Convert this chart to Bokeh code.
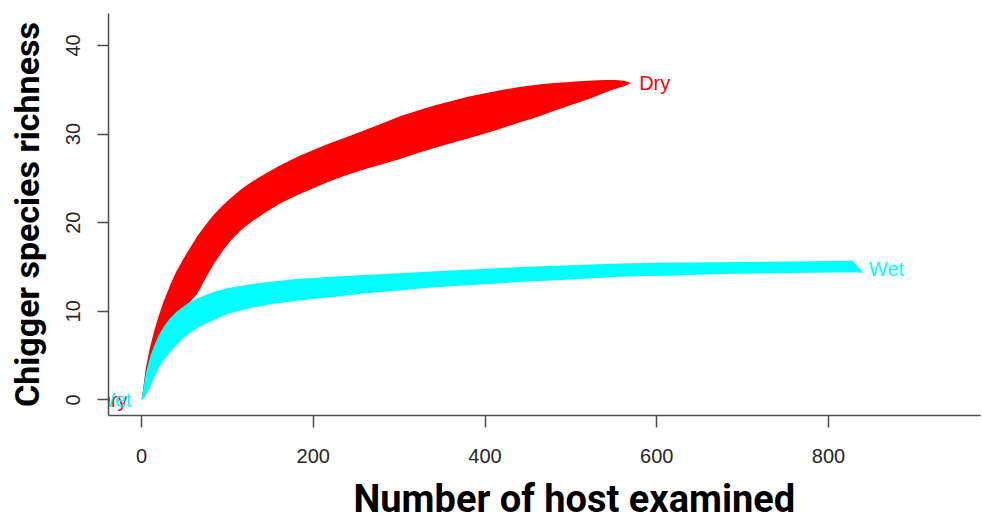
from bokeh.plotting import figure
from bokeh.models import Range1d, FixedTicker, Title, ColumnDataSource
from bokeh.core.properties import value
from bokeh.embed import file_html
from bokeh.resources import INLINE

# ---- data ----
dry_x  = [0, 5, 10, 15, 20, 26, 33, 40, 48, 56, 65, 75, 84, 95, 104, 115, 128, 142, 160, 181,
          200, 220, 240, 259, 280, 301, 320, 340, 360, 380, 400, 418, 440, 460, 480, 495, 510,
          525, 540, 552, 562, 569]
dry_hi = [0, 3.6, 6.0, 7.9, 9.5, 11.2, 12.9, 14.4, 15.8, 17.1, 18.5, 19.8, 20.9, 22.0, 22.8,
          23.7, 24.6, 25.4, 26.4, 27.4, 28.2, 29.0, 29.7, 30.4, 31.2, 32.0, 32.6, 33.2, 33.7,
          34.2, 34.6, 34.95, 35.3, 35.55, 35.75, 35.85, 35.95, 36.05, 36.1, 36.1, 36.0, 35.8]
dry_lo = [0, 1.2, 2.6, 3.9, 5.0, 6.3, 7.6, 8.8, 10.0, 11.0, 12.0, 13.8, 15.3, 16.9, 18.0, 19.1,
          20.1, 21.0, 22.1, 23.1, 23.9, 24.7, 25.4, 26.0, 26.6, 27.2, 27.8, 28.4, 28.95, 29.5,
          30.05, 30.6, 31.3, 31.9, 32.6, 33.1, 33.6, 34.1, 34.7, 35.1, 35.4, 35.7]

wet_x  = [0, 3, 6, 10, 15, 20, 26, 33, 40, 48, 57, 68, 84, 100, 123, 150, 181, 220, 259, 300,
          337, 390, 441, 500, 557, 620, 674, 730, 780, 828, 840]
wet_hi = [0, 1.9, 3.4, 4.9, 6.2, 7.3, 8.3, 9.2, 9.9, 10.5, 11.1, 11.6, 12.2, 12.6, 13.0, 13.35,
          13.65, 13.9, 14.1, 14.3, 14.5, 14.75, 15.0, 15.2, 15.4, 15.5, 15.55, 15.6, 15.65, 15.7,
          14.45]
wet_lo = [0, 0.2, 0.7, 1.4, 2.6, 3.6, 4.5, 5.4, 6.1, 6.9, 7.6, 8.3, 9.0, 9.7, 10.3, 10.8, 11.2,
          11.6, 12.0, 12.35, 12.7, 13.0, 13.3, 13.6, 13.9, 14.05, 14.2, 14.3, 14.35, 14.4, 14.35]

groups = ["Dry", "Wet"]
colors = ["#FF0000", "#00FFFF"]
x_ticks = [0, 200, 400, 600, 800]
y_ticks = [0, 10, 20, 30, 40]

x_title = "Number of host examined"
y_title = "Chigger species richness"

LABEL_FONT = "Liberation Sans"
TITLE_FONT = "Roboto"

p = figure(width=982, height=522, output_backend="svg", toolbar_location=None,
           x_range=Range1d(-38.5, 977), y_range=Range1d(-1.75, 43.6),
           min_border_left=108, min_border_right=2, min_border_top=13,
           min_border_bottom=107, background_fill_color="white",
           border_fill_color="white")
p.outline_line_color = None
p.grid.visible = False

# bands
p.varea(x=dry_x, y1=dry_lo, y2=dry_hi, fill_color=colors[0])
p.varea(x=wet_x, y1=wet_lo, y2=wet_hi, fill_color=colors[1])

# start labels (partly clipped by the frame, as in the reference); Dry first, Wet on top
start_src = ColumnDataSource(dict(x=[dry_x[0], wet_x[0]], y=[dry_lo[0], wet_lo[0]],
                                  t=[groups[0], groups[1]], c=[colors[0], colors[1]],
                                  xo=[-14, -10]))
p.text(x="x", y="y", text="t", source=start_src, text_color="c", x_offset="xo",
       text_align="right", text_baseline="middle", text_font=value(LABEL_FONT),
       text_font_size="20px")

# end labels
end_src = ColumnDataSource(dict(
    x=[dry_x[-1], wet_x[-1]],
    y=[(dry_hi[-1] + dry_lo[-1]) / 2, (wet_hi[-1] + wet_lo[-1]) / 2],
    t=groups, c=colors, xo=[9, 6], yo=[0, -3]))
p.text(x="x", y="y", text="t", source=end_src, text_color="c", x_offset="xo",
       y_offset="yo", text_align="left", text_baseline="middle",
       text_font=value(LABEL_FONT), text_font_size="20px")

# axes
for ax in (p.xaxis[0], p.yaxis[0]):
    ax.axis_line_color = "#4d4d4d"
    ax.axis_line_width = 1.5
    ax.major_tick_line_color = "#4d4d4d"
    ax.major_tick_line_width = 1.5
    ax.major_tick_in = 0
    ax.minor_tick_line_color = None
    ax.major_label_text_font = LABEL_FONT
    ax.major_label_text_font_size = "20px"
    ax.major_label_text_color = "#262626"

p.xaxis.ticker = FixedTicker(ticks=x_ticks)
p.yaxis.ticker = FixedTicker(ticks=y_ticks)
p.xaxis.major_tick_out = 12
p.yaxis.major_tick_out = 11
p.xaxis.major_label_standoff = 21
p.yaxis.major_label_standoff = 17
p.yaxis.major_label_orientation = "vertical"

p.yaxis.axis_label = y_title
p.yaxis.axis_label_text_font = TITLE_FONT
p.yaxis.axis_label_text_font_size = "34px"
p.yaxis.axis_label_text_font_style = "bold"
p.yaxis.axis_label_text_color = "black"
p.yaxis.axis_label_standoff = 17

# small spacer under the x tick labels, so that the x title sits low
p.xaxis.axis_label = " "
p.xaxis.axis_label_text_font_size = "1px"
p.xaxis.axis_label_standoff = 5

xt = Title(text=x_title, align="left", offset=245, vertical_align="bottom",
           text_font=TITLE_FONT, text_font_size="38px", text_font_style="bold",
           text_color="black", standoff=0)
p.add_layout(xt, "below")

open("out.html", "w").write(file_html(p, INLINE))
